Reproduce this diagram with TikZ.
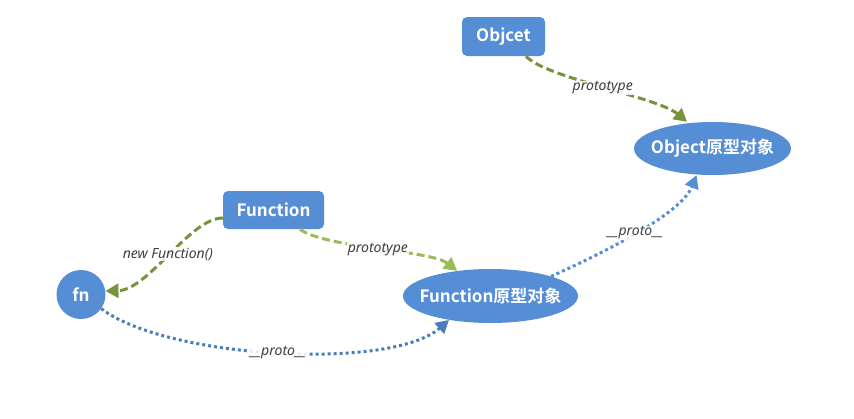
\documentclass[tikz,border=0pt]{standalone}
\usepackage{fontspec}
\setmainfont{Noto Sans}
\newfontfamily\cjkb[BoldFont={Noto Sans CJK SC Bold}]{Noto Sans CJK SC}
\usetikzlibrary{arrows.meta,shapes.geometric}
\definecolor{nodeblue}{HTML}{558ED5}
\definecolor{olive}{HTML}{77933C}
\definecolor{lgreen}{HTML}{9BBB59}
\definecolor{dotblue}{HTML}{558ED5}
\definecolor{dotblue2}{HTML}{4A7EBB}
\definecolor{lbltext}{HTML}{404040}
\tikzset{
  box/.style={draw=none, fill=nodeblue, rounded corners=5pt, text=white, font=\cjkb\bfseries\fontsize{17}{20}\selectfont, inner sep=0pt},
  oval/.style={ellipse, draw=none, fill=nodeblue, text=white, font=\cjkb\bfseries\fontsize{17}{20}\selectfont, inner sep=0pt},
  circ/.style={circle, draw=none, fill=nodeblue, text=white, font=\cjkb\bfseries\fontsize{17}{20}\selectfont, inner sep=0pt},
  lbl/.style={font=\itshape\fontsize{14}{16}\selectfont, text=lbltext, fill=white, fill opacity=0.85, text opacity=1, inner sep=1pt},
  dashG/.style={draw=olive, line width=3pt, dash pattern=on 8pt off 4pt, -{Triangle[length=13pt,width=14pt]}},
  dashL/.style={draw=lgreen, line width=3pt, dash pattern=on 8pt off 4pt, -{Triangle[length=13pt,width=14pt]}},
  dotB/.style={draw=dotblue, line width=3pt, dash pattern=on 3pt off 3pt, -{Triangle[length=13pt,width=14pt]}},
  dotB2/.style={draw=dotblue2, line width=3pt, dash pattern=on 3pt off 3pt, -{Triangle[length=13pt,width=14pt]}},
}
\begin{document}
\begin{tikzpicture}[x=1pt,y=-1pt]
\useasboundingbox (0,0) rectangle (854,418);
\fill[white] (0,0) rectangle (854,418);
\node[box, minimum width=83pt, minimum height=39pt] (objcet) at (503.5,36.5) {Objcet};
\node[oval, minimum width=157pt, minimum height=53pt] (objproto) at (712.5,148.5) {\makebox[0pt]{Object原型对象}};
\node[box, minimum width=101pt, minimum height=38pt] (func) at (273.5,210) {Function};
\node[circ, minimum size=49pt] (fn) at (81,294.5) {fn};
\node[oval, minimum width=175pt, minimum height=54pt] (fproto) at (490.5,296) {\makebox[0pt]{Function原型对象}};

\draw[dashG] ([xshift=22.5pt]objcet.south) .. controls +(20,22) and +(-30,-25) .. ([xshift=-25.5pt]objproto.north)
  node[lbl, pos=0.5] {prototype};
\draw[dashG] ([yshift=-8pt]func.west) .. controls +(-33,0) and +(43,-1) .. (fn.8)
  node[lbl, pos=0.5] {new Function()};
\draw[dashL] ([xshift=26.5pt]func.south) .. controls +(25,19) and +(-27,-21) .. (fproto.143)
  node[lbl, pos=0.5] {prototype};
\draw[dotB2] (fn.-35) .. controls +(66,50) and +(-58,51) .. (fproto.-150)
  node[lbl, pos=0.5] {\_\_proto\_\_};
\draw[dotB] (fproto.18) .. controls +(47,-21) and +(-16,40) .. ([xshift=-16pt]objproto.south)
  node[lbl, pos=0.5] {\_\_proto\_\_};
\end{tikzpicture}
\end{document}
